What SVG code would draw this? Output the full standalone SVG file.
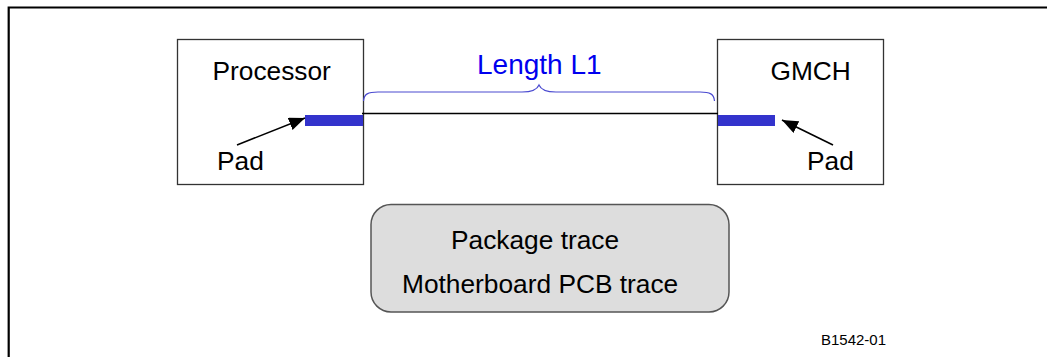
<svg xmlns="http://www.w3.org/2000/svg" width="1047" height="357" viewBox="0 0 1047 357">
<defs>
<style>
.t{font-family:"Liberation Sans",Arial,sans-serif;fill:#000}
.box{fill:#fff;stroke:#333;stroke-width:1.3}
.pad{fill:#3333cc}
.ln{stroke:#000;stroke-width:1.5;fill:none}
</style>
<marker id="ah" viewBox="0 0 10 10" refX="10" refY="5" markerWidth="16" markerHeight="13" markerUnits="userSpaceOnUse" orient="auto" preserveAspectRatio="none">
<path d="M0,0 L10,5 L0,10 z" fill="#000"/>
</marker>
</defs>
<rect width="1047" height="357" fill="#fff"/>
<path d="M8.7,357 V7.5 H1047" fill="none" stroke="#000" stroke-width="2.2"/>
<g id="processor">
<rect class="box" x="177.5" y="39.5" width="186" height="145"/>
<text class="t" x="212.5" y="80" font-size="26.3">Processor</text>
<rect class="pad" x="305" y="115" width="58" height="11"/>
<text class="t" x="217" y="170" font-size="26.3">Pad</text>
</g>
<g id="gmch">
<rect class="box" x="717.5" y="39.5" width="166" height="145"/>
<text class="t" x="770.5" y="80" font-size="26.3">GMCH</text>
<rect class="pad" x="718" y="115" width="57" height="11"/>
<text class="t" x="807" y="170" font-size="26.3">Pad</text>
</g>
<g id="traces">
<rect x="371" y="204.5" width="358" height="107.5" rx="20" ry="20" fill="#dddddd" stroke="#555" stroke-width="1.5"/>
<text class="t" x="451" y="249" font-size="26.3">Package trace</text>
<text class="t" x="402" y="293" font-size="26.3">Motherboard PCB trace</text>
</g>
<g id="length">
<text x="477" y="74" font-size="28" font-family="Liberation Sans, Arial, sans-serif" fill="#0000ee">Length L1</text>
<path d="M363.5,101 C364,94 368,92 378,92 L522,92 C532,92 537,90 539,85 C541,90 546,92 556,92 L700,92 C710,92 714,94 714.5,101" fill="none" stroke="#4a4ad0" stroke-width="1.2"/>
</g>
<g id="connectors">
<line class="ln" x1="362" y1="113.5" x2="718" y2="113.5"/>
<line x1="237" y1="145" x2="305" y2="118" stroke="#000" stroke-width="1.6" marker-end="url(#ah)"/>
<line x1="833" y1="145" x2="782" y2="120" stroke="#000" stroke-width="1.6" marker-end="url(#ah)"/>
</g>
<text class="t" x="821" y="345" font-size="15">B1542-01</text>
</svg>
